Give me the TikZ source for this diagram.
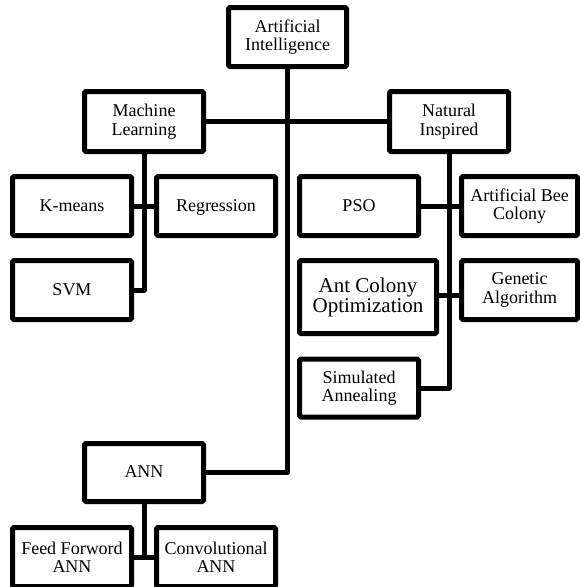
\documentclass[tikz,border=0pt]{standalone}
\usepackage{fontspec}
\setmainfont{Liberation Serif}
\usetikzlibrary{backgrounds}
\begin{document}
\begin{tikzpicture}[x=1pt,y=-1pt,
  box/.style={draw=black, line width=5pt, fill=white, rounded corners=1.5pt,
    align=center, inner sep=0pt, font=\fontsize{18}{18.5}\selectfont,
    minimum width=119pt, minimum height=59pt},
  single/.style={text height=12.5pt, text depth=2.5pt},
  link/.style={draw=black, line width=5pt, line join=round}]
\useasboundingbox (0,0) rectangle (579,587);
\node[box, minimum width=118pt] (AI) at (287.5,37) {Artificial\\Intelligence};
\node[box, minimum height=60pt] (ML) at (144,121.5) {Machine\\Learning};
\node[box, minimum height=60pt] (NI) at (449,121.5) {Natural\\Inspired};
\node[box, single] (KM) at (72,206) {K-means};
\node[box, single] (RG) at (216,206) {Regression};
\node[box, single] (SVM) at (72,290) {SVM};
\node[box, single] (PSO) at (359,206) {PSO};
\node[box, minimum width=116pt] (ABC) at (519.5,206) {Artificial Bee\\Colony};
\node[box, minimum width=137pt, minimum height=73pt, font=\fontsize{21}{20}\selectfont] (ACO) at (368,297) {Ant Colony\\Optimization};
\node[box, minimum width=116pt] (GA) at (519.5,290) {Genetic\\Algorithm};
\node[box, minimum height=58pt] (SA) at (359,388) {Simulated\\Annealing};
\node[box, single, minimum height=58pt] (ANN) at (144,472.5) {ANN};
\node[box] (FF) at (72,557) {Feed Forword\\ANN};
\node[box] (CV) at (216,557) {Convolutional\\ANN};
\begin{scope}[on background layer]
\path[link] (AI.south) |- (ANN.east);
\path[link] (ML.east) -- (NI.west);
\path[link] (ML.south) |- (SVM.east);
\path[link] (KM.east) -- (RG.west);
\path[link] (NI.south) |- (SA.east);
\path[link] (PSO.east) -- (ABC.west);
\coordinate (acoy) at (0,295);
\path[link] (ACO.east |- acoy) -- (GA.west |- acoy);
\path[link] (ANN.south) -- (ANN.south |- FF.east);
\path[link] (FF.east) -- (CV.west);
\end{scope}
\end{tikzpicture}
\end{document}
